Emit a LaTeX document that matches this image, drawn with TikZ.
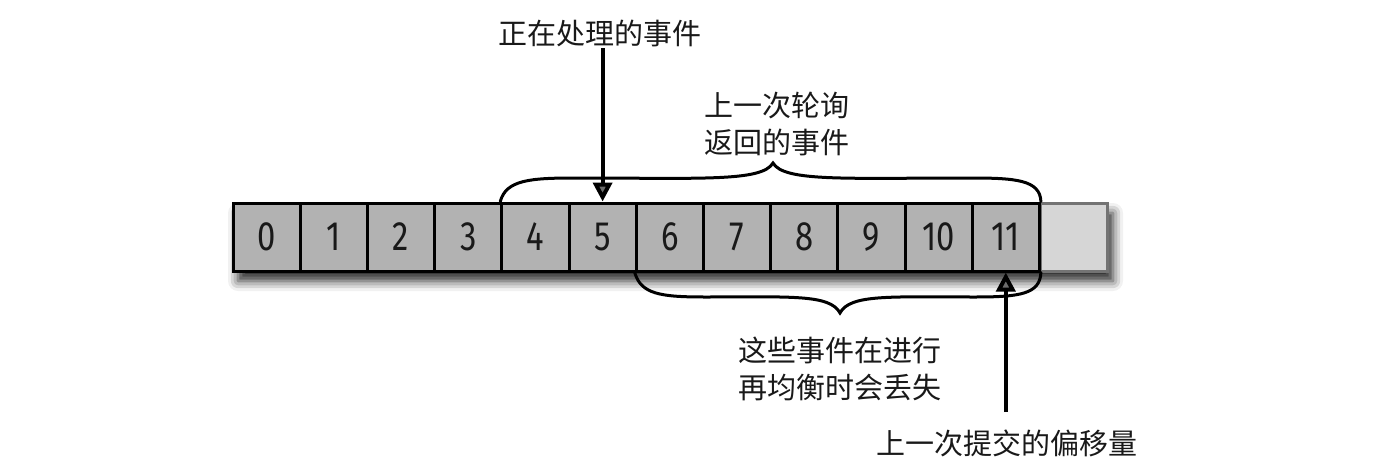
\documentclass[tikz,border=0pt]{standalone}
\usepackage{fontspec}
\newfontfamily\cjk{Noto Sans CJK SC}
\newfontfamily\numfont[FakeStretch=0.8]{Fira Sans}
\usetikzlibrary{arrows.meta,shadows.blur,positioning}
\begin{document}
\begin{tikzpicture}[x=1pt,y=-1pt,
  cell/.style={draw=black,line width=3pt,fill=black!30,minimum width=67.2pt,minimum height=68pt,inner sep=0pt,
    font=\numfont\fontsize{41}{41}\selectfont, text=black!90},
  lastcell/.style={draw=black!55,line width=3pt,fill=black!16,minimum width=67.2pt,minimum height=68pt,inner sep=0pt},
  lbl/.style={font=\cjk\fontsize{29}{37}\selectfont,align=center,inner sep=0pt,text=black!90},
  arr/.style={line width=4pt,-{Triangle[width=19pt,length=19pt]}},
  brace/.style={line width=3pt,line cap=round}]
\useasboundingbox (0,0) rectangle (1382,466);
% shadow
\fill[white,blur shadow={shadow xshift=5pt,shadow yshift=-10pt,shadow opacity=85,shadow blur radius=10pt}] (233,203) rectangle (1108,271);
% light cell
\node[lastcell] (c12) at (1074.2,237) {};
\foreach \i in {0,...,11}{
  \node[cell] (c\i) at ({266.6+67.2*\i},237) {\i};
}
% top brace
\draw[brace] (c4.north west) .. controls (506,180) and (530,178) .. (575,178)
  .. controls (700,178) and (762,182) .. (773,163)
  .. controls (784,182) and (846,178) .. (971,178)
  .. controls (1016,178) and (1040,180) .. (c11.north east);
% bottom brace
\draw[brace] (c6.south west) .. controls (641,294) and (660,297) .. (705,297)
  .. controls (790,297) and (830,294) .. (840,313)
  .. controls (850,294) and (890,297) .. (975,297)
  .. controls (1020,297) and (1040,294) .. (c11.south east);
% labels
\node[lbl] (t1) at (600,33) {正在处理的事件};
\node[lbl] (t2) at (777,124) {上一次轮询\\返回的事件};
\node[lbl] (t3) at (840,369) {这些事件在进行\\再均衡时会丢失};
\node[lbl] (t4) at (1007,443) {上一次提交的偏移量};
% arrows
\draw[arr] (c5 |- 0,48) -- (c5.north);
\draw[arr] (c11 |- 0,412) -- (c11.south);
\end{tikzpicture}
\end{document}
